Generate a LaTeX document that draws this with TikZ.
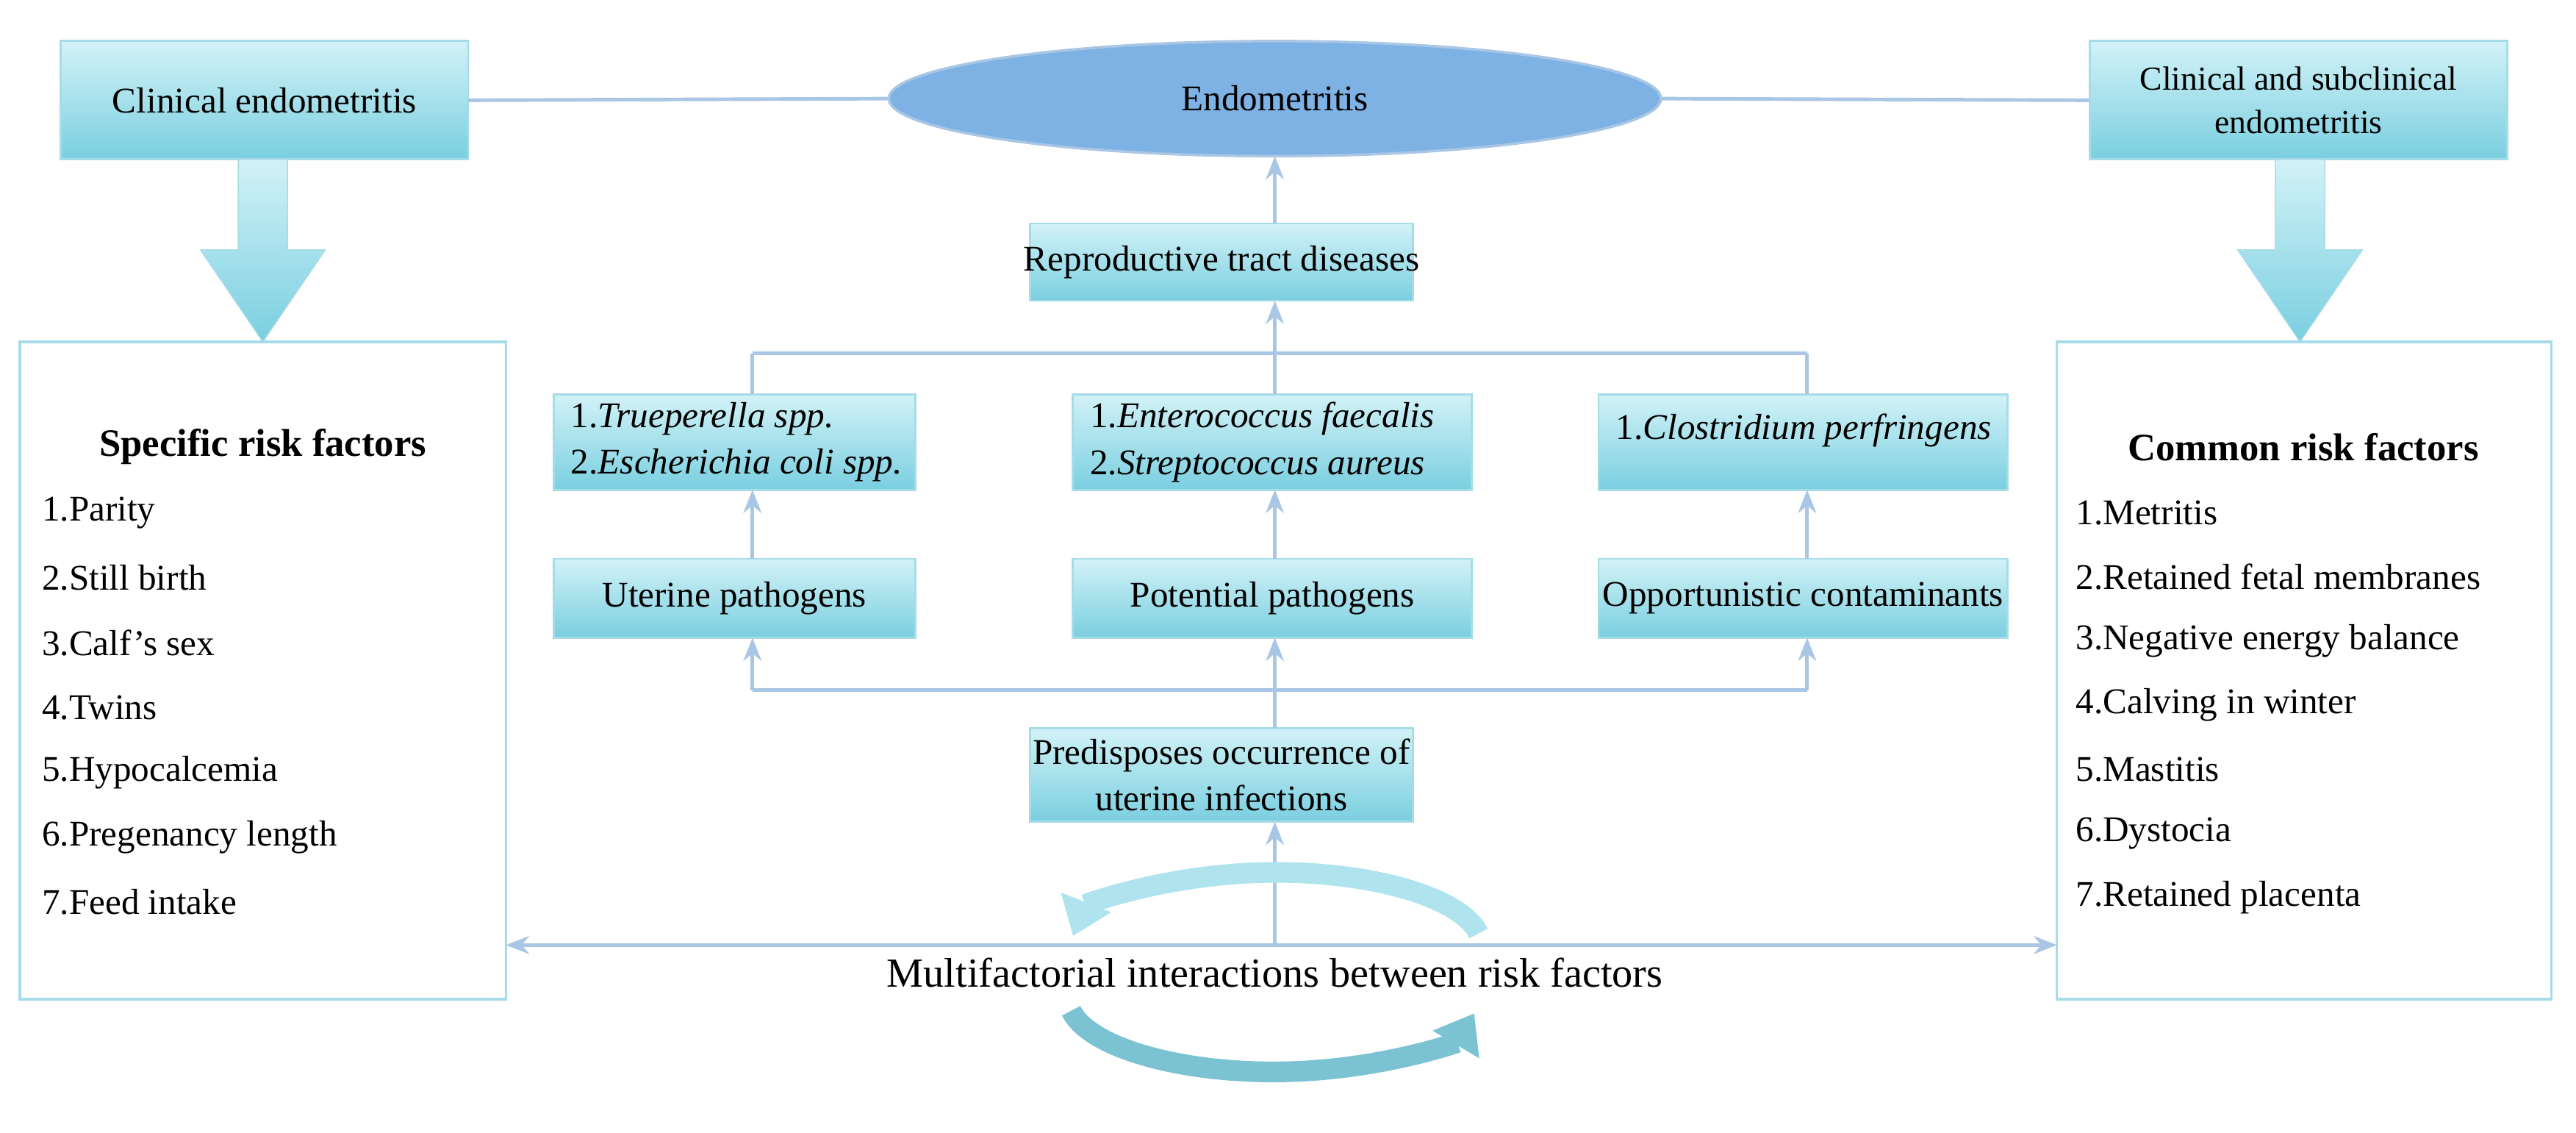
\documentclass[tikz,border=0pt]{standalone}
\usepackage{fontspec}
\setmainfont{Liberation Serif}
\usetikzlibrary{shapes.geometric,arrows.meta}
\definecolor{bd}{HTML}{A6DCE8}
\definecolor{ln}{HTML}{A9C6E4}
\definecolor{tp}{HTML}{D2F2F7}
\definecolor{bt}{HTML}{7ACFE0}
\newcommand{\bx}[6]{\node[#1,minimum width={(#5-#3)*0.02235cm},minimum height={(#6-#4)*0.02235cm}] (#2) at ({(#3+#5)/2},{(#4+#6)/2}) {};}
\begin{document}
\begin{tikzpicture}[x=0.02235cm,y=-0.02235cm,
 box/.style={draw=bd,line width=0.8pt,top color=tp,bottom color=bt,inner sep=0pt,outer sep=0pt},
 wbox/.style={draw=bd,line width=1pt,fill=white,inner sep=0pt,outer sep=0pt},
 t/.style={font=\fontsize{14}{18}\selectfont,align=center},
 tl/.style={font=\fontsize{14}{18}\selectfont,align=left,anchor=west},
 con/.style={draw=ln,line width=1.4pt},
 arr/.style={con,-{Stealth[length=9pt,width=7pt]}}]
\useasboundingbox (0,0) rectangle (1568,689);
% top row
\bx{box}{ce}{37}{25}{285}{97}
\node[t] at (ce.center) {Clinical endometritis};
\bx{box}{cs}{1272}{25}{1526}{97}
\node[t,font=\fontsize{13}{17}\selectfont] at (cs.center) {Clinical and subclinical\\endometritis};
\node[ellipse,draw=ln,line width=1pt,fill={rgb,255:red,126;green,178;blue,228},minimum width={470*0.02235cm},minimum height={70*0.02235cm},inner sep=0pt,outer sep=0pt] (en) at (776,60) {};
\node[t] at (en.center) {Endometritis};
\draw[con] (ce.east) -- (en.west);
\draw[con] (en.east) -- (cs.west);
% big arrows
\foreach \x in {160,1400}{
 \fill[top color=tp,bottom color=bt,draw=bd] (\x-15,97) -- (\x+15,97) -- (\x+15,152) -- (\x+38,152) -- (\x,208) -- (\x-38,152) -- (\x-15,152) -- cycle;}
% side boxes
\bx{wbox}{L}{12}{208}{308}{608}
\node[font=\fontsize{15}{18}\selectfont\bfseries] at (160,272) {Specific risk factors};
\foreach \s [count=\i] in {1.Parity,2.Still birth,3.Calf’s sex,4.Twins,5.Hypocalcemia,6.Pregenancy length,7.Feed intake}
 \node[tl] at (20,{312+39.5*(\i-1)}) {\s};
\bx{wbox}{R}{1252}{208}{1553}{608}
\node[font=\fontsize{15}{18}\selectfont\bfseries] at (1402,272) {Common risk factors};
\foreach \s [count=\i] in {1.Metritis,2.Retained fetal membranes,3.Negative energy balance,4.Calving in winter,5.Mastitis,6.Dystocia,7.Retained placenta}
 \node[tl] at (1258,{312+39*(\i-1)}) {\s};
% center
\bx{box}{rt}{627}{136}{860}{183}
\node[t] at (rt.center) {Reproductive tract diseases};
\draw[arr] (rt.north-|en.south) -- (en.south);
\bx{box}{p1}{337}{240}{557}{298}
\node[tl] at (342,269) {1.\textit{Trueperella spp.}\\2.\textit{Escherichia coli spp.}};
\bx{box}{p2}{653}{240}{896}{298}
\node[tl] at (658,269) {1.\textit{Enterococcus faecalis}\\2.\textit{Streptococcus aureus}};
\bx{box}{p3}{973}{240}{1222}{298}
\node[tl] at (978,262) {1.\textit{Clostridium perfringens}};
\coordinate (j1) at (458,215); \coordinate (j2) at (776,215); \coordinate (j3) at (1100,215);
\draw[con] (j1) -- (j3);
\draw[con] (j1) -- (j1|-p1.north);
\draw[con] (j3) -- (j3|-p3.north);
\draw[con] (p2.north-|j2) -- (j2);
\draw[arr] (j2) -- (rt.south-|j2);
\bx{box}{m1}{337}{340}{557}{388}
\node[t] at (m1.center) {Uterine pathogens};
\bx{box}{m2}{653}{340}{896}{388}
\node[t] at (m2.center) {Potential pathogens};
\bx{box}{m3}{973}{340}{1222}{388}
\node[t] at (m3.center) {Opportunistic contaminants};
\draw[arr] (m1.north-|j1) -- (p1.south-|j1);
\draw[arr] (m2.north-|j2) -- (p2.south-|j2);
\draw[arr] (m3.north-|j3) -- (p3.south-|j3);
\bx{box}{pr}{627}{443}{860}{500}
\node[t] at (pr.center) {Predisposes occurrence of\\uterine infections};
\coordinate (k1) at (458,420); \coordinate (k3) at (1100,420);
\draw[con] (k1) -- (k3);
\draw[arr] (k1) -- (m1.south-|k1);
\draw[arr] (k3) -- (m3.south-|k3);
\draw[arr] (pr.north-|j2) -- (m2.south-|j2);
\coordinate (c0) at (776,575);
\draw[arr] (c0) -- (pr.south-|c0);
\draw[con,{Stealth[length=9pt,width=7pt]}-{Stealth[length=9pt,width=7pt]}] (L.east|-c0) -- (R.west|-c0);
% circular arrows
\draw[line width=8pt,draw=tp!60!bt,-{Triangle[width=20pt,length=14pt]}] (900,568) arc[start angle=-10,end angle=-172,x radius=125,y radius=45];
\draw[line width=8pt,draw=bt!85!gray,-{Triangle[width=20pt,length=14pt]}] (652,615) arc[start angle=170,end angle=12,x radius=125,y radius=45];
\node[font=\fontsize{16}{19}\selectfont,fill=white,inner sep=1pt] (mf) at (776,592) {Multifactorial interactions between risk factors};
\end{tikzpicture}
\end{document}
